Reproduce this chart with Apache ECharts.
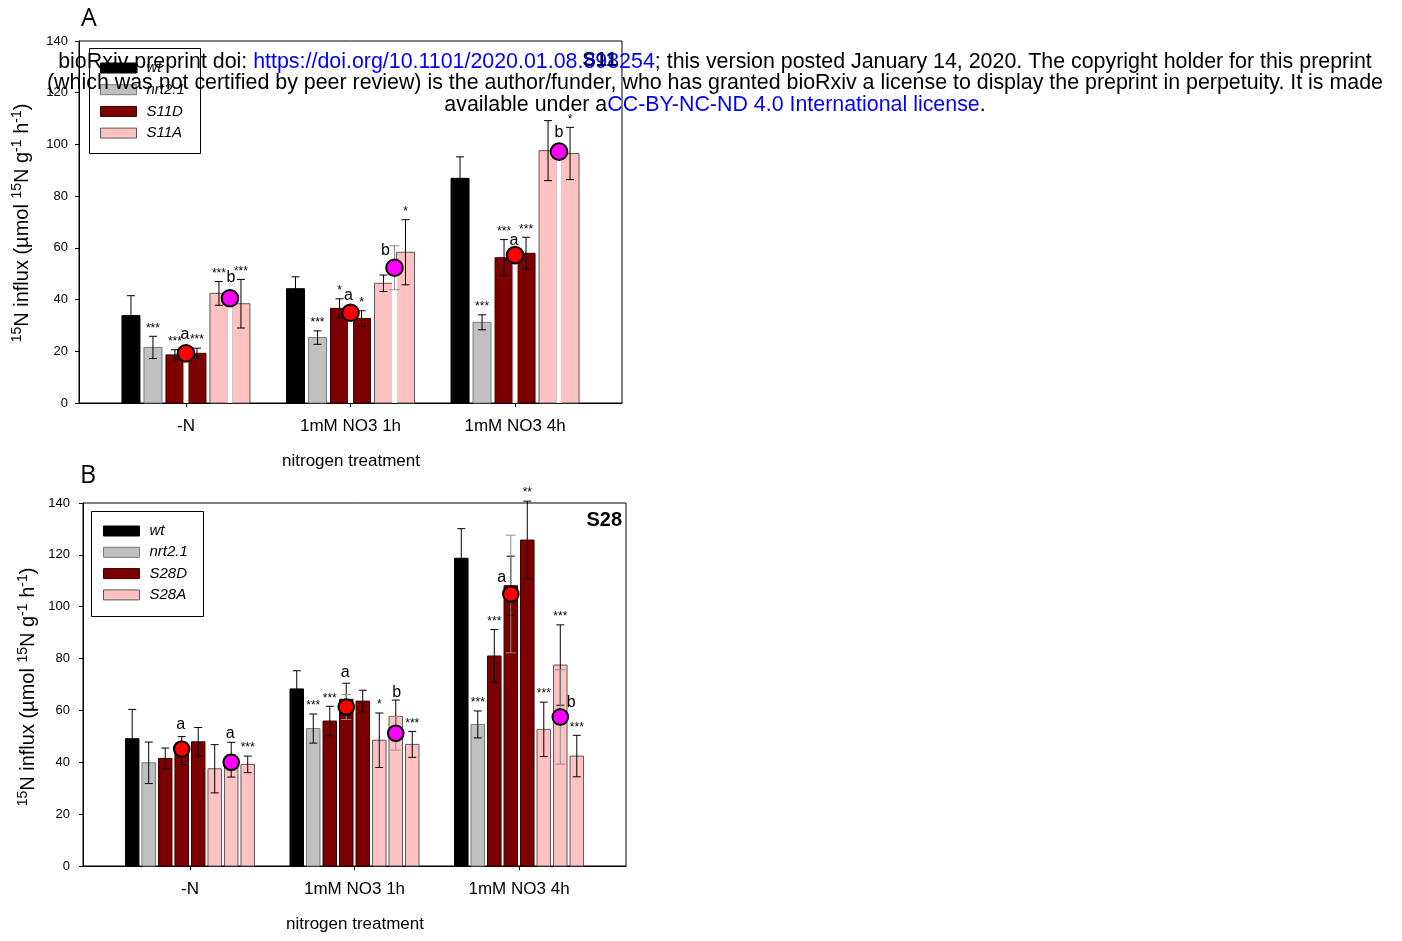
<!DOCTYPE html>
<html><head><meta charset="utf-8">
<script src="https://cdn.jsdelivr.net/npm/echarts@6/dist/echarts.min.js"></script>
<style>html,body{margin:0;padding:0;background:#fff}#c{width:1402px;height:941px}</style>
</head><body><div id="c"></div>
<script>
// ---------- DATA ----------
const categories = ['-N', '1mM NO3 1h', '1mM NO3 4h'];
const yTicks = [0, 20, 40, 60, 80, 100, 120, 140];

// Panel A (S11): per group bars = wt, nrt2.1, S11D-1, S11D-2, S11A-1, S11A-2
const aLegend = ['wt', 'nrt2.1', 'S11D', 'S11A'];
const aBarGenotype = [0, 1, 2, 2, 3, 3];
const aValues = [
  [33.8, 21.5, 18.6, 19.2, 42.4, 38.4],
  [44.2, 25.3, 36.6, 32.7, 46.3, 58.3],
  [86.9, 31.2, 56.2, 57.9, 97.6, 96.5]
];
const aErrors = [
  [7.7, 4.3, 2.0, 2.0, 4.6, 9.4],
  [4.6, 2.6, 3.7, 3.0, 3.2, 12.6],
  [8.3, 2.9, 7.0, 6.2, 11.6, 10.1]
];
const aStars = [
  ['', '***', '***', '***', '***', '***'],
  ['', '***', '*', '*', '', '*'],
  ['', '***', '***', '***', '', '*']
];
const aMeanD = [19.2, 34.9, 57.2];
const aMeanDErr = [1.0, 2.0, 1.5];
const aMeanA = [40.5, 52.3, 97.2];
const aMeanAErr = [2.0, 8.5, 1.0];
const aLetterD = ['a', 'a', 'a'];
const aLetterA = ['b', 'b', 'b'];

// Panel B (S28): per group bars = wt, nrt2.1, S28D-1..3, S28A-1..3
const bLegend = ['wt', 'nrt2.1', 'S28D', 'S28A'];
const bBarGenotype = [0, 1, 2, 2, 2, 3, 3, 3];
const bValues = [
  [49.1, 39.8, 41.5, 44.5, 47.9, 37.5, 41.0, 39.2],
  [68.3, 53.0, 55.9, 64.3, 63.6, 48.5, 57.7, 46.9],
  [118.7, 54.6, 81.0, 108.1, 125.7, 52.7, 77.5, 42.4]
];
const bErrors = [
  [11.3, 8.0, 4.0, 5.4, 5.5, 9.3, 6.7, 3.2],
  [7.0, 5.6, 5.7, 6.2, 4.2, 10.5, 6.3, 5.0],
  [11.4, 5.2, 10.2, 11.4, 15.0, 10.5, 15.5, 8.0]
];
const bStars = [
  ['', '', '', '', '', '', '', '***'],
  ['', '***', '***', '', '', '*', '', '***'],
  ['', '***', '***', '', '**', '***', '***', '***']
];
const bMeanD = [45.1, 61.3, 104.9];
const bMeanDErr = [2.0, 4.8, 22.7];
const bMeanA = [40.0, 51.2, 57.5];
const bMeanAErr = [3.0, 6.5, 18.2];
const bLetterD = ['a', 'a', 'a'];
const bLetterA = ['a', 'b', 'b'];

// ---------- STYLE / LAYOUT ----------
const FONT = 'Liberation Sans, Arial, sans-serif';
const fills = ['#000000', '#c0c0c0', '#7d0000', '#ffc2c2'];
const strokes = ['#000000', '#7a7a7a', '#3a0000', '#5a5a5a'];
const panels = [
  { grid: { left: 79, top: 41, width: 543, height: 362 }, barW: 18, spacing: 22, meanOff: [0, 44], strip: true, circleR: 8.3,
    // letter placement (px) relative to circle centre: [cat][D/A] = [dx, dy]
    letterPos: [[[-1, -19], [1, -21]], [[-2, -17], [-9, -17]], [[-1, -15], [0, -19]]],
    values: aValues, errors: aErrors, stars: aStars, geno: aBarGenotype,
    meanD: aMeanD, meanDErr: aMeanDErr, meanA: aMeanA, meanAErr: aMeanAErr, letD: aLetterD, letA: aLetterA },
  { grid: { left: 83, top: 503, width: 543, height: 363 }, barW: 13.5, spacing: 16.5, meanOff: [-8.25, 41.25], strip: false, circleR: 7.8,
    letterPos: [[[-1, -24], [-1, -29]], [[-1, -34], [1, -41]], [[-9, -16], [11, -14]]],
    values: bValues, errors: bErrors, stars: bStars, geno: bBarGenotype,
    meanD: bMeanD, meanDErr: bMeanDErr, meanA: bMeanA, meanAErr: bMeanAErr, letD: bLetterD, letA: bLetterA }
];

const grids = [], xAxes = [], yAxes = [], series = [];
panels.forEach((P, pi) => {
  grids.push(Object.assign({ show: true, borderColor: '#000', borderWidth: 1, backgroundColor: 'transparent' }, P.grid));
  xAxes.push({
    gridIndex: pi, type: 'value', min: -0.65, max: 2.65,
    axisLine: { show: true, onZero: false, lineStyle: { color: '#000', width: 1 } },
    axisTick: { show: true, customValues: [0, 1, 2], length: 4, lineStyle: { color: '#000' } },
    axisLabel: { customValues: [0, 1, 2], formatter: v => categories[Math.round(v)], margin: 15, fontSize: 17, color: '#000', fontFamily: FONT },
    splitLine: { show: false }
  });
  yAxes.push({
    gridIndex: pi, type: 'value', min: yTicks[0], max: yTicks[yTicks.length - 1], interval: yTicks[1] - yTicks[0],
    axisLine: { show: true, onZero: false, lineStyle: { color: '#000', width: 1 } },
    axisTick: { show: true, length: 4, lineStyle: { color: '#000' } },
    axisLabel: { margin: pi === 0 ? 11 : 13, fontSize: 13, color: '#000', fontFamily: FONT },
    splitLine: { show: false }
  });
  const nb = P.geno.length;
  const barData = [];
  P.values.forEach((grp, ci) => grp.forEach((v, bi) => barData.push([ci, bi, v, P.errors[ci][bi], P.stars[ci][bi]])));
  series.push({
    type: 'custom', xAxisIndex: pi, yAxisIndex: pi, clip: false, z: 2,
    data: barData,
    renderItem: (params, api) => {
      const ci = api.value(0), bi = api.value(1), v = api.value(2), e = api.value(3);
      const star = barData[params.dataIndex][4];
      const cx = api.coord([ci, 0])[0] + (bi - (nb - 1) / 2) * P.spacing;
      const y0 = api.coord([ci, 0])[1], y1 = api.coord([ci, v])[1];
      const yt = api.coord([ci, v + e])[1], yb = api.coord([ci, v - e])[1];
      const g = P.geno[bi];
      const w = P.barW, cap = 4;
      const children = [
        { type: 'rect', shape: { x: cx - w / 2, y: y1, width: w, height: y0 - y1 }, style: { fill: fills[g], stroke: strokes[g], lineWidth: 1 } },
        { type: 'line', shape: { x1: cx, y1: yt, x2: cx, y2: yb }, style: { stroke: '#000', lineWidth: 1 } },
        { type: 'line', shape: { x1: cx - cap, y1: yt, x2: cx + cap, y2: yt }, style: { stroke: '#000', lineWidth: 1 } },
        { type: 'line', shape: { x1: cx - cap, y1: yb, x2: cx + cap, y2: yb }, style: { stroke: '#000', lineWidth: 1 } }
      ];
      if (star) children.push({ type: 'text', style: { text: star, x: cx, y: yt - 2, textAlign: 'center', textVerticalAlign: 'bottom', fontSize: 12, fontFamily: FONT, fill: '#000' } });
      return { type: 'group', children };
    }
  });
  const meanData = [];
  [0, 1, 2].forEach(ci => {
    meanData.push([ci, 0, P.meanD[ci], P.meanDErr[ci], P.letD[ci]]);
    meanData.push([ci, 1, P.meanA[ci], P.meanAErr[ci], P.letA[ci]]);
  });
  series.push({
    type: 'custom', xAxisIndex: pi, yAxisIndex: pi, clip: false, z: 3,
    data: meanData,
    renderItem: (params, api) => {
      const ci = api.value(0), k = api.value(1), v = api.value(2), e = api.value(3);
      const letter = meanData[params.dataIndex][4];
      const cx = api.coord([ci, 0])[0] + P.meanOff[k];
      const y0 = api.coord([ci, 0])[1], y1 = api.coord([ci, v])[1];
      const yt = api.coord([ci, v + e])[1], yb = api.coord([ci, v - e])[1];
      const lp = P.letterPos[ci][k];
      const children = [];
      if (P.strip) children.push({ type: 'rect', shape: { x: cx - 2.5, y: y1, width: 5, height: y0 - y1 }, style: { fill: '#fff' } });
      children.push(
        { type: 'line', shape: { x1: cx, y1: yt, x2: cx, y2: yb }, style: { stroke: '#8c8c8c', lineWidth: 1 } },
        { type: 'line', shape: { x1: cx - 5, y1: yt, x2: cx + 5, y2: yt }, style: { stroke: '#8c8c8c', lineWidth: 1 } },
        { type: 'line', shape: { x1: cx - 5, y1: yb, x2: cx + 5, y2: yb }, style: { stroke: '#8c8c8c', lineWidth: 1 } },
        { type: 'circle', shape: { cx: cx, cy: y1, r: P.circleR }, style: { fill: k === 0 ? '#ff0000' : '#ff00ff', stroke: '#000', lineWidth: 2 } },
        { type: 'text', style: { text: letter, x: cx + lp[0], y: y1 + lp[1], textAlign: 'center', textVerticalAlign: 'middle', fontSize: 16, fontFamily: FONT, fill: '#000' } }
      );
      return { type: 'group', children };
    }
  });
});

// ---------- GRAPHICS (titles, legends, notice) ----------
const graphic = [];
function yTitle(x, y) {
  return { type: 'text', x: x, y: y, rotation: Math.PI / 2, z: 10,
    style: { text: '{s|15}{n|N influx (µmol }{s|15}{n|N g}{s|-1}{n| h}{s|-1}{n|)}', textAlign: 'center', textVerticalAlign: 'middle', fill: '#000',
      rich: { n: { fontSize: 20, fontFamily: FONT, lineHeight: 22, verticalAlign: 'bottom', fill: '#000' }, s: { fontSize: 14, fontFamily: FONT, lineHeight: 12, verticalAlign: 'top', fill: '#000' } } } };
}
graphic.push(yTitle(21, 223), yTitle(27, 687));
graphic.push(
  { type: 'text', x: 351, y: 461, style: { text: 'nitrogen treatment', fontSize: 17, fontFamily: FONT, fill: '#000', textAlign: 'center', textVerticalAlign: 'middle' } },
  { type: 'text', x: 355, y: 924, style: { text: 'nitrogen treatment', fontSize: 17, fontFamily: FONT, fill: '#000', textAlign: 'center', textVerticalAlign: 'middle' } },
  { type: 'text', x: 89, y: 19, style: { text: 'A', fontSize: 25, fontFamily: 'Open Sans, sans-serif', fill: '#000', textAlign: 'center', textVerticalAlign: 'middle' } },
  { type: 'text', x: 88, y: 476, style: { text: 'B', fontSize: 25, fontFamily: 'Open Sans, sans-serif', fill: '#000', textAlign: 'center', textVerticalAlign: 'middle' } },
  { type: 'text', x: 617, y: 60, z: 5, style: { text: 'S11', fontSize: 20, fontWeight: 'bold', fontFamily: FONT, fill: '#000', textAlign: 'right', textVerticalAlign: 'middle' } },
  { type: 'text', x: 622, y: 520, z: 5, style: { text: 'S28', fontSize: 20, fontWeight: 'bold', fontFamily: FONT, fill: '#000', textAlign: 'right', textVerticalAlign: 'middle' } }
);
function legend(names, bx, by, bw, bh, sx, sy, step) {
  graphic.push({ type: 'rect', z: 5, shape: { x: bx, y: by, width: bw, height: bh }, style: { fill: '#fff', stroke: '#000', lineWidth: 1 } });
  names.forEach((nm, i) => {
    const y = sy + i * step;
    graphic.push({ type: 'rect', z: 6, shape: { x: sx, y: y - 5, width: 36, height: 10 }, style: { fill: fills[i], stroke: strokes[i], lineWidth: 1 } });
    graphic.push({ type: 'text', z: 6, x: sx + 46, y: y, style: { text: nm, fontSize: 15, fontStyle: 'italic', fontFamily: FONT, fill: '#000', textAlign: 'left', textVerticalAlign: 'middle' } });
  });
}
legend(aLegend, 89.5, 48.5, 111, 105, 100.5, 68, 21.7);
legend(bLegend, 91.5, 511.5, 112, 105, 103.5, 531, 21.3);

graphic.push({ type: 'text', x: 715, y: 51, z: 20,
  style: { text: '{k|bioRxiv preprint doi: }{b|https://doi.org/10.1101/2020.01.08.898254}{k|; this version posted January 14, 2020. The copyright holder for this preprint}\n' +
    '{k|(which was not certified by peer review) is the author/funder, who has granted bioRxiv a license to display the preprint in perpetuity. It is made}\n' +
    '{k|available under a}{b|CC-BY-NC-ND 4.0 International license}{k|.}',
    textAlign: 'center', textVerticalAlign: 'top',
    rich: { k: { fontSize: 21.4, fontFamily: FONT, fill: '#000', lineHeight: 21.5 }, b: { fontSize: 21.4, fontFamily: FONT, fill: '#0000ff', lineHeight: 21.5 } } } });

const chart = echarts.init(document.getElementById('c'), null, { renderer: 'canvas' });
chart.setOption({
  animation: false, backgroundColor: '#fff',
  grid: grids, xAxis: xAxes, yAxis: yAxes, series: series, graphic: graphic
});
</script></body></html>
